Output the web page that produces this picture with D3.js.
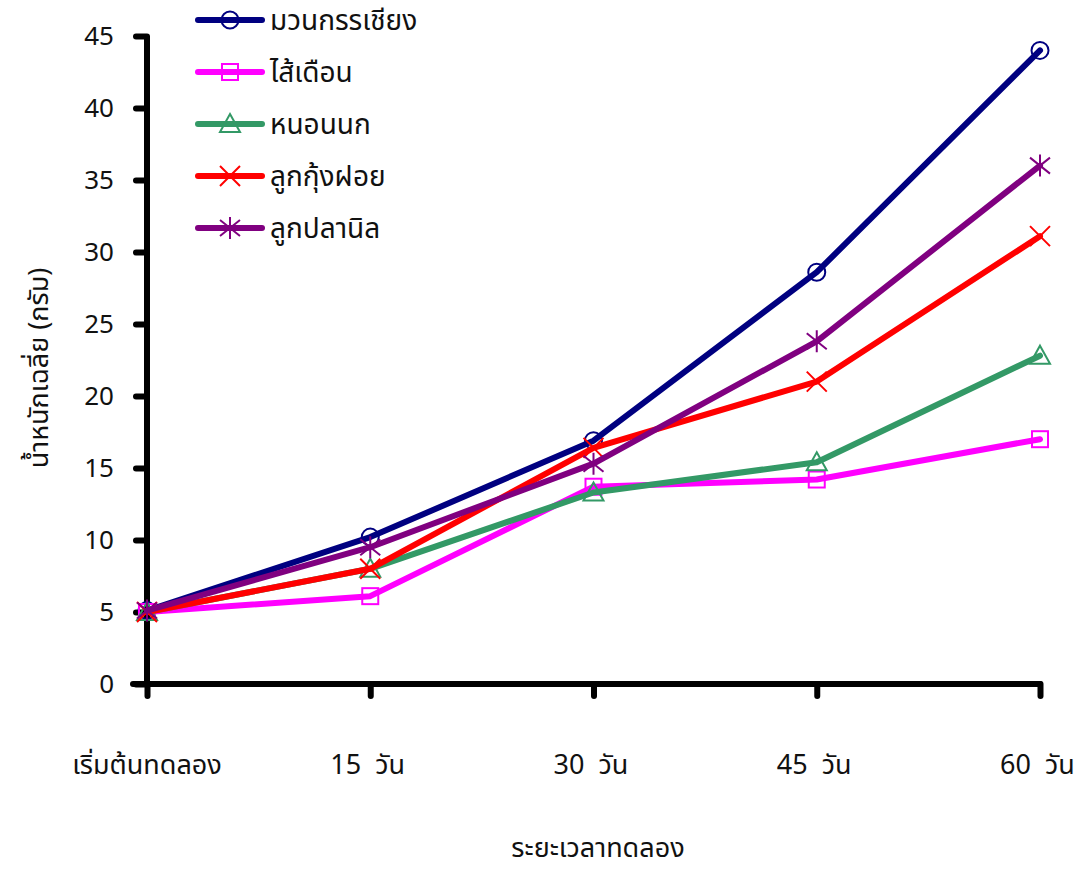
<!DOCTYPE html>
<html>
<head>
<meta charset="utf-8">
<script src="https://cdn.jsdelivr.net/npm/d3@7"></script>
<style>
  html, body { margin: 0; padding: 0; background: #fff; }
  svg { display: block; }
  text { font-family: "Noto Sans Thai", "Noto Sans", "DejaVu Sans", sans-serif; fill: #111; }
</style>
</head>
<body>
<svg id="chart" width="1088" height="872"></svg>
<script>
// Sampling days and their axis labels
const periods = ["เริ่มต้นทดลอง", "15  วัน", "30  วัน", "45  วัน", "60  วัน"];
const yTicks = [0, 5, 10, 15, 20, 25, 30, 35, 40, 45];

// Mean weight (grams) for each feed type
const muanKanchiang = [5.1, 10.2, 16.9, 28.6, 44.0];
const saiDuean      = [5.0, 6.1, 13.7, 14.2, 17.0];
const nonNok        = [5.0, 8.0, 13.3, 15.4, 22.8];
const lukKungFoi    = [5.0, 8.0, 16.4, 21.0, 31.1];
const lukPlaNil     = [5.1, 9.5, 15.3, 23.8, 36.0];

const seriesNames = ["มวนกรรเชียง", "ไส้เดือน", "หนอนนก", "ลูกกุ้งฝอย", "ลูกปลานิล"];
const seriesColors = ["#000080", "#ff00ff", "#339966", "#ff0000", "#800080"];
const seriesMarkers = ["circle", "square", "triangle", "cross", "star"];
const seriesValues = [muanKanchiang, saiDuean, nonNok, lukKungFoi, lukPlaNil];

const series = seriesNames.map((name, i) => ({
  name, color: seriesColors[i], marker: seriesMarkers[i], values: seriesValues[i]
}));

const svg = d3.select("#chart");

const x = d3.scalePoint().domain(periods).range([147, 1040]);
const y = d3.scaleLinear().domain([0, 45]).range([684, 36]);

// Marker glyph drawn at (cx, cy)
function drawMarker(g, type, cx, cy, color) {
  const s = 8;
  if (type === "circle") {
    g.append("circle").attr("cx", cx).attr("cy", cy).attr("r", s + 0.5)
      .attr("fill", "none").attr("stroke", color).attr("stroke-width", 2);
  } else if (type === "square") {
    g.append("rect").attr("x", cx - s).attr("y", cy - s).attr("width", 2 * s).attr("height", 2 * s)
      .attr("fill", "none").attr("stroke", color).attr("stroke-width", 2);
  } else if (type === "triangle") {
    g.append("path").attr("d", `M${cx},${cy - 10}L${cx + 10},${cy + 8}L${cx - 10},${cy + 8}Z`)
      .attr("fill", "none").attr("stroke", color).attr("stroke-width", 2);
  } else if (type === "cross") {
    g.append("path").attr("d", `M${cx - s - 2},${cy - s - 2}L${cx + s + 2},${cy + s + 2}M${cx - s - 2},${cy + s + 2}L${cx + s + 2},${cy - s - 2}`)
      .attr("stroke", color).attr("stroke-width", 2);
  } else if (type === "star") {
    g.append("path").attr("d", `M${cx - s - 2},${cy - s}L${cx + s + 2},${cy + s}M${cx - s - 2},${cy + s}L${cx + s + 2},${cy - s}M${cx},${cy - s - 3}L${cx},${cy + s + 3}`)
      .attr("stroke", color).attr("stroke-width", 2);
  }
}

// Axes
const yAxis = d3.axisLeft(y).tickValues(yTicks).tickSize(11).tickPadding(22);
const yG = svg.append("g").attr("transform", `translate(${x(periods[0])},0)`).call(yAxis);
yG.select(".domain").attr("stroke", "#000").attr("stroke-width", 6)
  .attr("d", `M0,${y(45)}V${y(0)}`);
yG.selectAll(".tick line").attr("stroke", "#000").attr("stroke-width", 6).attr("stroke-linecap", "round");
yG.selectAll(".tick text").attr("font-size", 26).style("font-family", "'Noto Sans', sans-serif").attr("fill", "#111");

const xAxis = d3.axisBottom(x).tickSize(12).tickFormat("");
const xG = svg.append("g").attr("transform", `translate(0,${y(0)})`).call(xAxis);
xG.select(".domain").attr("stroke", "#000").attr("stroke-width", 6)
  .attr("d", `M${x(periods[0]) - 14},0H${x(periods[periods.length - 1])}`)
  .attr("stroke-linecap", "round");
xG.selectAll(".tick line").attr("stroke", "#000").attr("stroke-width", 6).attr("stroke-linecap", "round");

// Category labels below the axis
svg.append("g").selectAll("text").data(periods).join("text")
  .attr("x", (d, i) => i === 0 ? x(d) : x(d) - 40)
  .attr("y", 774)
  .attr("text-anchor", (d, i) => i === 0 ? "middle" : "start")
  .attr("font-size", 27)
  .attr("xml:space", "preserve")
  .style("white-space", "pre")
  .text(d => d);

// Axis titles
svg.append("text")
  .attr("transform", "translate(48,368) rotate(-90)")
  .attr("text-anchor", "middle").attr("font-size", 27)
  .text("น้ำหนักเฉลี่ย (กรัม)");
svg.append("text")
  .attr("x", 598).attr("y", 857)
  .attr("text-anchor", "middle").attr("font-size", 27)
  .text("ระยะเวลาทดลอง");

// Series lines and markers
const line = d3.line().x((d, i) => x(periods[i])).y(d => y(d));
series.forEach(s => {
  const g = svg.append("g");
  s.values.forEach((v, i) => drawMarker(g, s.marker, x(periods[i]), y(v), s.color));
  g.append("path").datum(s.values).attr("d", line)
    .attr("fill", "none").attr("stroke", s.color).attr("stroke-width", 6)
    .attr("stroke-linecap", "round").attr("stroke-linejoin", "round");
});

// Legend
const legend = svg.append("g");
series.forEach((s, i) => {
  const ly = 20 + i * 52;
  const g = legend.append("g");
  g.append("line").attr("x1", 198).attr("x2", 262).attr("y1", ly).attr("y2", ly)
    .attr("stroke", s.color).attr("stroke-width", 6).attr("stroke-linecap", "round");
  drawMarker(g, s.marker, 230, ly, s.color);
  g.append("text").attr("x", 270).attr("y", ly + 10).attr("font-size", 28).text(s.name);
});
</script>
</body>
</html>
